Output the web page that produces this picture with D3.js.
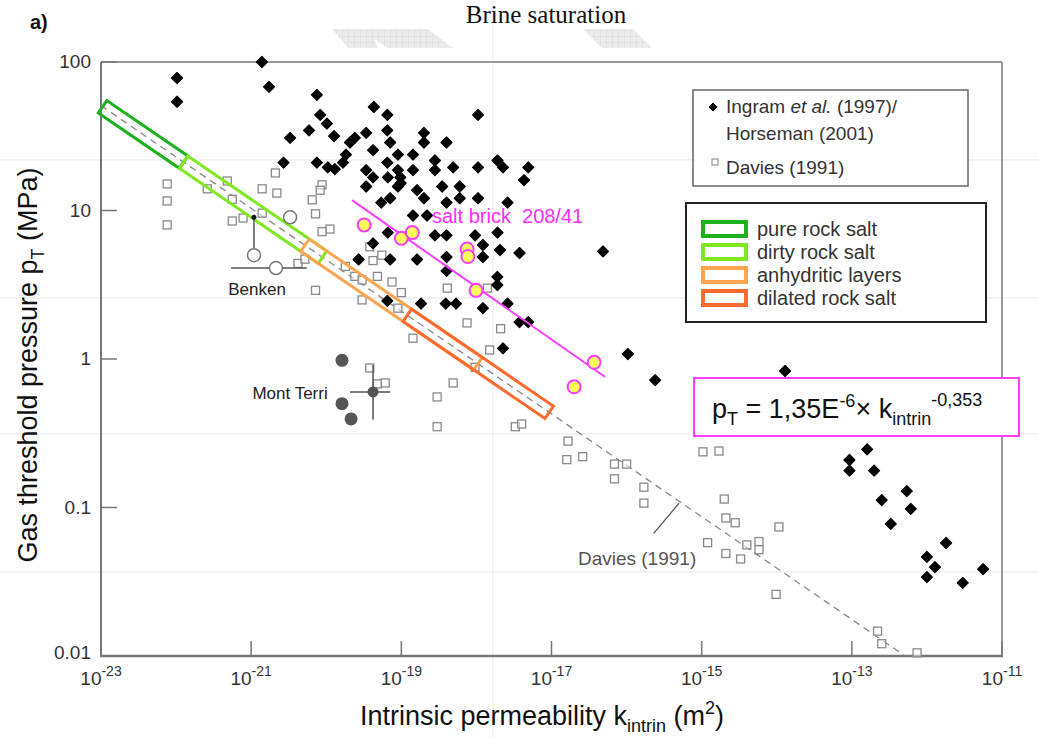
<!DOCTYPE html>
<html><head><meta charset="utf-8">
<script src="https://cdn.jsdelivr.net/npm/d3@7"></script>
<style>body{margin:0;background:#fff}svg{display:block}</style>
</head><body>
<svg id="chart" width="1038" height="738"></svg>
<script>
// ---------- DATA ----------
const xTickExps = [-23, -21, -19, -17, -15, -13, -11];
const yTicks = [100, 10, 1, 0.1, 0.01];
const yTickLabels = ["100", "10", "1", "0.1", "0.01"];

// Ingram et al. (1997) / Horseman (2001): [k (m2), pT (MPa)]
const ingram = [
 [1.03e-22,78],[1.03e-22,54],[1.39e-21,100],[1.73e-21,68],[7.5e-21,60],[8.3e-21,44],[1.02e-20,38.5],
 [5.9e-21,34.6],[1.27e-20,31.7],[3.3e-21,30.8],[2.7e-21,21],[7.5e-21,21],[1.05e-20,19.5],[4.3e-20,49.8],
 [6.5e-20,44],[1.05e-18,44],[3.4e-20,33.3],[6.5e-20,34.6],[2.0e-19,33.3],[2.0e-19,28.7],[2.07e-20,28.7],
 [2.4e-20,30.8],[7.1e-20,28.7],[4.0e-19,28.7],[4.2e-20,25.5],[1.83e-20,23.8],[9.0e-20,23.8],[1.43e-19,23.8],
 [2.8e-19,21.7],[1.91e-18,21.7],[1.67e-20,21],[6.5e-20,21],[1.3e-20,19],[3.4e-20,18.7],[9.0e-20,18.7],
 [1.43e-19,18.7],[2.8e-19,18.7],[4.9e-19,19.5],[1.05e-18,19.5],[2.26e-18,19.5],[4.9e-18,19.5],[4.2e-20,16.7],
 [6.6e-20,16.7],[9.7e-20,16.7],[9.8e-20,15.3],[3.4e-20,14.5],[9.0e-20,14.5],[1.62e-19,13.7],[3.5e-19,14.5],
 [6.0e-19,14.5],[4.3e-18,16.0],[5.4e-20,11.3],[7.1e-20,12.1],[2.0e-19,12.1],[4.0e-19,11.3],[6.0e-19,12.1],
 [1.05e-18,12.1],[2.6e-18,11.3],[1.43e-19,9.25],[2.2e-19,9.25],[6.6e-20,7.1],[2.8e-19,6.8],[4.0e-19,6.8],
 [9.6e-19,6.8],[1.91e-18,7.1],[4.2e-20,6.0],[1.22e-18,5.86],[2.06e-18,5.42],[3.75e-18,5.17],[2.7e-20,4.68],
 [7.1e-20,4.68],[1.62e-19,4.68],[4.0e-19,4.86],[1.22e-18,4.86],[4.0e-19,3.92],[1.9e-18,3.57],[1.9e-18,3.15],
 [6.5e-20,2.46],[1.83e-19,2.36],[3.9e-19,2.36],[5.35e-19,2.36],[1.22e-18,2.2],[2.6e-18,2.36],[3.75e-18,1.77],
 [4.9e-18,1.77],[2.26e-18,1.18],[4.85e-17,5.3],[1.04e-16,1.08],[2.4e-16,0.72],[1.29e-14,0.83],
 [1.6e-13,0.246],[9.3e-14,0.209],[9.3e-14,0.177],[1.98e-13,0.177],[5.4e-13,0.129],[2.5e-13,0.112],
 [6.1e-13,0.098],[3.3e-13,0.0775],[1.8e-12,0.0577],[1.0e-12,0.0465],[1.28e-12,0.0397],[5.6e-12,0.0385],
 [1.0e-12,0.034],[3.0e-12,0.0311]
];

// Davies (1991): [k (m2), pT (MPa)]
const davies = [
 [7.6e-23,15.1],[7.6e-23,11.6],[7.6e-23,8.0],[2.6e-22,14.0],[4.8e-22,15.8],[5.6e-22,11.9],[5.6e-22,8.5],
 [7.8e-22,8.9],[1.4e-21,9.6],[1.4e-21,14.0],[2.1e-21,17.9],[2.2e-21,13.1],[6.5e-21,11.8],[8.8e-21,14.9],
 [8.3e-21,13.7],[7.2e-21,9.5],[1.12e-20,7.5],[8.8e-21,7.2],[7.2e-21,2.9],[4.2e-21,4.4],[5.2e-21,4.7],
 [3.0e-20,2.5],[3.8e-20,5.7],[4.2e-20,4.6],[5.5e-20,5.0],[1.8e-20,4.2],[2.4e-20,3.6],[3.0e-20,3.4],
 [4.8e-20,3.6],[7.5e-20,3.3],[1.0e-19,2.8],[9.0e-20,2.2],[4.1e-19,3.0],[1.4e-18,3.0],[7.5e-19,1.75],
 [2.1e-18,1.6],[1.43e-19,1.38],[1.5e-18,1.15],[9.6e-19,0.88],[4.9e-19,0.69],[3.0e-19,0.555],[3.0e-19,0.35],
 [3.3e-18,0.35],[4.0e-18,0.365],[3.8e-20,0.87],[4.8e-20,0.68],[6.1e-20,0.69],[1.66e-17,0.28],[1.6e-17,0.21],
 [2.6e-17,0.22],[6.9e-17,0.196],[1.0e-16,0.196],[6.9e-17,0.156],[1.7e-16,0.137],[1.7e-16,0.107],
 [1.04e-15,0.237],[1.7e-15,0.24],[2.0e-15,0.114],[2.1e-15,0.085],[2.8e-15,0.079],[1.2e-15,0.058],
 [2.1e-15,0.049],[3.3e-15,0.045],[4.0e-15,0.056],[5.8e-15,0.059],[5.8e-15,0.052],[1.07e-14,0.074],
 [9.8e-15,0.026],[2.2e-13,0.0147],[2.5e-13,0.0121],[7.4e-13,0.0105]
];

// Salt brick 208/41
const saltBrick = [[3.2e-20,8.0],[1.0e-19,6.5],[1.4e-19,7.1],[7.5e-19,5.5],[7.7e-19,4.9],[9.9e-19,2.9],[3.7e-17,0.95],[2.0e-17,0.65]];
const saltFit = {a: 1.35e-6, b: -0.353};
const saltFitK = [2.2e-20, 5.2e-17];

// Davies (1991) relation
const daviesFit = {a: 5.6e-7, b: -0.346};
const daviesFitK = [1e-23, 5.1e-13];

// Rock-type bands along the Davies relation (k ranges)
const bandNames = ["pure rock salt", "dirty rock salt", "anhydritic layers", "dilated rock salt"];
const bandK = [[1.05e-23, 1.26e-22], [1.26e-22, 8.9e-21], [5.2e-21, 1.05e-18], [1.2e-19, 9.3e-18]];
const bandColors = ["#1db11d", "#7fe81e", "#ffa552", "#ff6a2e"];

// Mont Terri
const monteTerri = [[1.62e-20,0.98],[1.62e-20,0.50],[2.14e-20,0.395]];
const monteTerriBar = {k: 4.2e-20, p: 0.60, kLo: 2.07e-20, kHi: 7.1e-20, pLo: 0.39, pHi: 0.91};

// Benken
const benkenV = {k: 1.09e-21, p: 5.0, pHi: 9.0};
const benkenH = {k: 2.14e-21, p: 4.1, kLo: 5.4e-22, kHi: 5.5e-21};
const benkenExtra = [[3.3e-21, 9.0]];

// faint background grid of the source page
const gridP = [21.9, 2.58, 0.313, 0.0368];
const gridK = [1.66e-18];

// ---------- CHART ----------
const W = 1038, H = 738;
const F = "'Liberation Sans', Arial, sans-serif";
const svg = d3.select("#chart");
const x = d3.scaleLog().domain([1e-23, 1e-11]).range([101, 1002]);
const y = d3.scaleLog().domain([0.01, 100]).range([656, 62]);
const pow = (fit, k) => fit.a * Math.pow(k, fit.b);

// hatch pattern for watermark
const defs = svg.append("defs");
const pat = defs.append("pattern").attr("id", "hatch").attr("width", 6).attr("height", 6).attr("patternUnits", "userSpaceOnUse");
pat.append("rect").attr("width", 6).attr("height", 6).attr("fill", "#ececec");
pat.append("path").attr("d", "M0,0H6M0,0V6").attr("stroke", "#d6d6d6").attr("stroke-width", 0.8);
svg.append("polygon").attr("points", "332,29 428,29 453,48 388,48 374,39 378,48 348,48").attr("fill", "url(#hatch)");
svg.append("polygon").attr("points", "583,29 633,29 652,48 602,48").attr("fill", "url(#hatch)");

// faint grid
gridP.forEach(p => svg.append("line").attr("x1", 0).attr("x2", W).attr("y1", y(p)).attr("y2", y(p)).attr("stroke", "#ededed").attr("stroke-width", 1.2));
gridK.forEach(k => svg.append("line").attr("x1", x(k)).attr("x2", x(k)).attr("y1", 0).attr("y2", H).attr("stroke", "#ededed").attr("stroke-width", 1.2));

// title
svg.append("text").attr("x", 30).attr("y", 29).attr("font-family", F).attr("font-weight", "bold").attr("font-size", 20).attr("fill", "#111").text("a)");
svg.append("text").attr("x", 546).attr("y", 23).attr("text-anchor", "middle").attr("font-family", "'Liberation Serif', 'Times New Roman', serif").attr("font-size", 25).attr("fill", "#111").text("Brine saturation");

// frame
svg.append("line").attr("x1", 101).attr("x2", 1002).attr("y1", 62).attr("y2", 62).attr("stroke", "#999").attr("stroke-width", 2);
svg.append("line").attr("x1", 1002).attr("x2", 1002).attr("y1", 62).attr("y2", 656).attr("stroke", "#999").attr("stroke-width", 2);
svg.append("line").attr("x1", 101).attr("x2", 101).attr("y1", 62).attr("y2", 657).attr("stroke", "#777").attr("stroke-width", 2);
svg.append("line").attr("x1", 100).attr("x2", 1003).attr("y1", 656).attr("y2", 656).attr("stroke", "#777").attr("stroke-width", 2.5);

// y ticks
yTicks.forEach((t, i) => {
  svg.append("line").attr("x1", 101).attr("x2", 117).attr("y1", y(t)).attr("y2", y(t)).attr("stroke", "#777").attr("stroke-width", 1.5);
  svg.append("text").attr("x", 91).attr("y", y(t) + 6 - (i === 4 ? 3 : 0)).attr("text-anchor", "end").attr("font-family", F).attr("font-size", 19).attr("fill", "#333").text(yTickLabels[i]);
});
// x ticks
xTickExps.forEach(e => {
  const xx = x(Math.pow(10, e));
  svg.append("line").attr("x1", xx).attr("x2", xx).attr("y1", 656).attr("y2", 641).attr("stroke", "#777").attr("stroke-width", 1.5);
  const t = svg.append("text").attr("x", xx).attr("y", 685).attr("text-anchor", "middle").attr("font-family", F).attr("font-size", 19).attr("fill", "#333");
  t.append("tspan").text("10");
  t.append("tspan").attr("font-size", 14).attr("dy", -9).text(String(e));
});

// axis labels
const xl = svg.append("text").attr("x", 542).attr("y", 725).attr("text-anchor", "middle").attr("font-family", F).attr("font-size", 27).attr("fill", "#111");
xl.append("tspan").text("Intrinsic permeability k");
xl.append("tspan").attr("font-size", 18).attr("dy", 7).text("intrin");
xl.append("tspan").attr("dy", -7).text(" (m");
xl.append("tspan").attr("font-size", 18).attr("dy", -11).text("2");
xl.append("tspan").attr("dy", 11).text(")");

const yl = svg.append("text").attr("transform", "translate(37,365) rotate(-90)").attr("text-anchor", "middle").attr("font-family", F).attr("font-size", 27).attr("fill", "#111");
yl.append("tspan").text("Gas threshold pressure p");
yl.append("tspan").attr("font-size", 18).attr("dy", 7).text("T");
yl.append("tspan").attr("dy", -7).text(" (MPa)");

// Davies dashed relation
const lineGen = d3.line().x(d => x(d[0])).y(d => y(d[1]));
svg.append("path").attr("d", lineGen(daviesFitK.map(k => [k, pow(daviesFit, k)]))).attr("fill", "none").attr("stroke", "#888").attr("stroke-width", 1.3).attr("stroke-dasharray", "7,5");

// Davies squares
svg.append("g").selectAll("rect").data(davies).join("rect")
  .attr("x", d => x(d[0]) - 4).attr("y", d => y(d[1]) - 4).attr("width", 8).attr("height", 8)
  .attr("fill", "#fff").attr("fill-opacity", 0.5).attr("stroke", "#8a8a8a").attr("stroke-width", 1.3);

// bands along Davies line
function bandPoly(k1, k2, hw) {
  const x1 = x(k1), y1 = y(pow(daviesFit, k1)), x2 = x(k2), y2 = y(pow(daviesFit, k2));
  const dx = x2 - x1, dy = y2 - y1, L = Math.hypot(dx, dy);
  const nx = -dy / L * hw, ny = dx / L * hw;
  return [[x1 + nx, y1 + ny], [x2 + nx, y2 + ny], [x2 - nx, y2 - ny], [x1 - nx, y1 - ny]];
}
bandK.forEach((r, i) => {
  svg.append("polygon").attr("points", bandPoly(r[0], r[1], 7.5).map(p => p.join(",")).join(" "))
    .attr("fill", "none").attr("stroke", bandColors[i]).attr("stroke-width", 3);
});

// Benken
svg.append("line").attr("x1", x(benkenV.k)).attr("x2", x(benkenV.k)).attr("y1", y(benkenV.pHi)).attr("y2", y(benkenV.p)).attr("stroke", "#555").attr("stroke-width", 1.5);
svg.append("circle").attr("cx", x(benkenV.k)).attr("cy", y(benkenV.pHi)).attr("r", 2.5).attr("fill", "#111");
svg.append("line").attr("x1", x(benkenH.kLo)).attr("x2", x(benkenH.kHi)).attr("y1", y(benkenH.p)).attr("y2", y(benkenH.p)).attr("stroke", "#555").attr("stroke-width", 1.5);
[[benkenV.k, benkenV.p], [benkenH.k, benkenH.p]].concat(benkenExtra).forEach(d => {
  svg.append("circle").attr("cx", x(d[0])).attr("cy", y(d[1])).attr("r", 6.5).attr("fill", "#fff").attr("stroke", "#777").attr("stroke-width", 1.5);
});
svg.append("text").attr("x", x(1.2e-21)).attr("y", y(2.96) + 6).attr("text-anchor", "middle").attr("font-family", F).attr("font-size", 17).attr("fill", "#222").text("Benken");

// Mont Terri
svg.append("line").attr("x1", x(monteTerriBar.kLo)).attr("x2", x(monteTerriBar.kHi)).attr("y1", y(monteTerriBar.p)).attr("y2", y(monteTerriBar.p)).attr("stroke", "#555").attr("stroke-width", 1.5);
svg.append("line").attr("x1", x(monteTerriBar.k)).attr("x2", x(monteTerriBar.k)).attr("y1", y(monteTerriBar.pLo)).attr("y2", y(monteTerriBar.pHi)).attr("stroke", "#555").attr("stroke-width", 1.5);
svg.append("circle").attr("cx", x(monteTerriBar.k)).attr("cy", y(monteTerriBar.p)).attr("r", 5.5).attr("fill", "#555");
svg.append("g").selectAll("circle").data(monteTerri).join("circle")
  .attr("cx", d => x(d[0])).attr("cy", d => y(d[1])).attr("r", 6.5).attr("fill", "#555");
svg.append("text").attr("x", x(3.3e-21)).attr("y", y(0.59) + 6).attr("text-anchor", "middle").attr("font-family", F).attr("font-size", 17).attr("fill", "#222").text("Mont Terri");

// Ingram diamonds
svg.append("g").selectAll("path").data(ingram).join("path")
  .attr("d", "M0,-5.5L5.5,0L0,5.5L-5.5,0Z")
  .attr("transform", d => `translate(${x(d[0])},${y(d[1])})`)
  .attr("fill", "#000").attr("stroke", "#000").attr("stroke-width", 1.2).attr("stroke-linejoin", "round");

// salt brick
svg.append("path").attr("d", lineGen(saltFitK.map(k => [k, pow(saltFit, k)]))).attr("fill", "none").attr("stroke", "#ff3cff").attr("stroke-width", 2);
svg.append("g").selectAll("circle").data(saltBrick).join("circle")
  .attr("cx", d => x(d[0])).attr("cy", d => y(d[1])).attr("r", 6.5)
  .attr("fill", "#ffff5c").attr("stroke", "#ff3cff").attr("stroke-width", 2);
svg.append("text").attr("x", x(2.56e-19)).attr("y", y(9.2) + 7).attr("font-family", F).attr("font-size", 20).attr("fill", "#ff2cff").attr("xml:space", "preserve").text("salt brick  208/41");

// Davies annotation
svg.append("line").attr("x1", x(5.0e-16)).attr("y1", y(0.107)).attr("x2", x(2.3e-16)).attr("y2", y(0.067)).attr("stroke", "#555").attr("stroke-width", 1.3);
svg.append("text").attr("x", x(1.38e-16)).attr("y", y(0.0457) + 7).attr("text-anchor", "middle").attr("font-family", F).attr("font-size", 19).attr("fill", "#555").text("Davies (1991)");

// legend 1
svg.append("rect").attr("x", 693).attr("y", 90).attr("width", 275).attr("height", 96).attr("fill", "#fff").attr("stroke", "#666").attr("stroke-width", 1.5);
svg.append("path").attr("d", "M0,-4L4,0L0,4L-4,0Z").attr("transform", "translate(713,107)").attr("fill", "#000").attr("stroke", "#000");
const l1 = svg.append("text").attr("x", 726).attr("y", 113).attr("font-family", F).attr("font-size", 19).attr("fill", "#333");
l1.append("tspan").text("Ingram ");
l1.append("tspan").attr("font-style", "italic").text("et al.");
l1.append("tspan").text(" (1997)/");
svg.append("text").attr("x", 726).attr("y", 140).attr("font-family", F).attr("font-size", 19).attr("fill", "#333").text("Horseman (2001)");
svg.append("rect").attr("x", 712).attr("y", 159).attr("width", 6).attr("height", 6).attr("fill", "#fff").attr("stroke", "#999").attr("stroke-width", 1.2);
svg.append("text").attr("x", 726).attr("y", 174).attr("font-family", F).attr("font-size", 19).attr("fill", "#333").text("Davies (1991)");

// legend 2
svg.append("rect").attr("x", 686).attr("y", 203).attr("width", 300).attr("height", 119).attr("fill", "#fff").attr("stroke", "#222").attr("stroke-width", 2);
bandNames.forEach((n, i) => {
  const cy = 229 + i * 23;
  svg.append("rect").attr("x", 703).attr("y", cy - 7).attr("width", 43).attr("height", 14).attr("fill", "#fff").attr("stroke", bandColors[i]).attr("stroke-width", 4);
  svg.append("text").attr("x", 757).attr("y", cy + 7).attr("font-family", F).attr("font-size", 20).attr("fill", "#333").text(n);
});

// equation box
svg.append("rect").attr("x", 694).attr("y", 378).attr("width", 325).attr("height", 58).attr("fill", "#fff").attr("stroke", "#ff3cff").attr("stroke-width", 2);
const eq = svg.append("text").attr("x", 712).attr("y", 418).attr("font-family", F).attr("font-size", 27).attr("fill", "#111");
eq.append("tspan").text("p");
eq.append("tspan").attr("font-size", 18).attr("dy", 7).text("T");
eq.append("tspan").attr("dy", -7).text(" = 1,35E");
eq.append("tspan").attr("font-size", 18).attr("dy", -11).text("-6");
eq.append("tspan").attr("dy", 11).text("\u00d7 k");
eq.append("tspan").attr("font-size", 18).attr("dy", 7).text("intrin");
eq.append("tspan").attr("font-size", 18).attr("dy", -19).text("-0,353");
</script>
</body></html>
